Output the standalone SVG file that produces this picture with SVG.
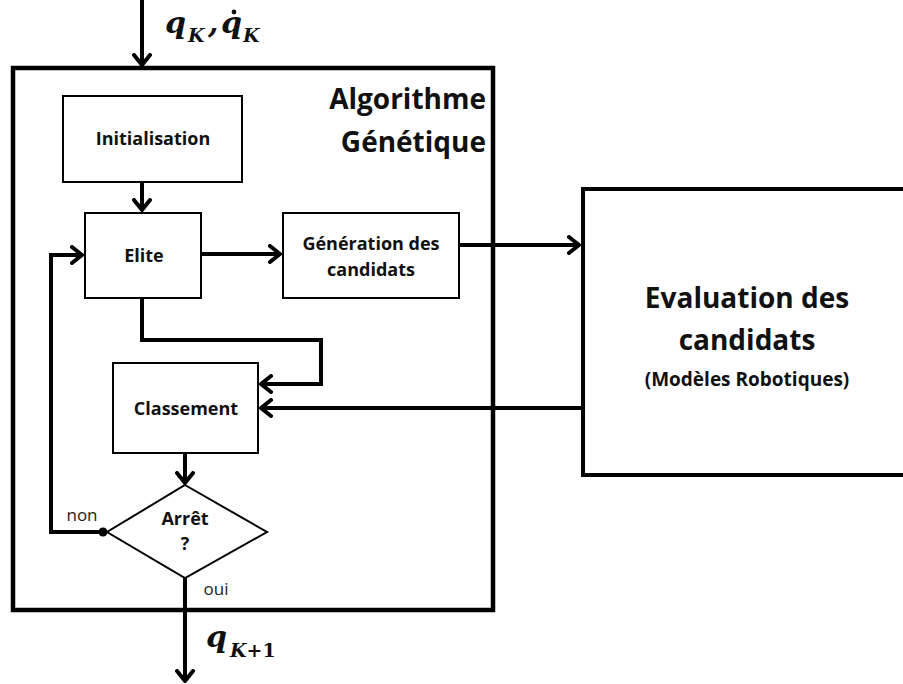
<svg xmlns="http://www.w3.org/2000/svg" width="903" height="684" viewBox="0 0 903 684">
<defs>
<style>
.box{fill:#fff;stroke:#000;stroke-width:2}
.thick{fill:none;stroke:#000;stroke-width:4.5}
.con{fill:none;stroke:#000;stroke-width:4}
.lbl{font-family:"Open Sans","Liberation Sans",sans-serif;font-weight:bold;font-size:18px;fill:#111;text-anchor:middle}
.big{font-family:"Open Sans","Liberation Sans",sans-serif;font-weight:bold;font-size:28px;fill:#111}
.mid{font-family:"Open Sans","Liberation Sans",sans-serif;font-weight:bold;font-size:19px;fill:#111;text-anchor:middle}
.sm{font-family:"Open Sans","Liberation Sans",sans-serif;font-size:17px;fill:#222;text-anchor:middle}
.math{font-family:"DejaVu Serif","Liberation Serif",serif;font-weight:bold;font-style:italic;fill:#111}
.up{font-style:normal}
</style>
<marker id="ah" viewBox="0 0 14 20" refX="13" refY="10" markerWidth="14" markerHeight="20" markerUnits="userSpaceOnUse" orient="auto">
<path d="M2,2 L12,10 L2,18" fill="none" stroke="#000" stroke-width="4" stroke-linecap="round" stroke-linejoin="round"/>
</marker>
</defs>
<rect width="903" height="684" fill="#fff"/>

<g id="outer">
<rect x="13" y="68" width="480" height="542" class="thick"/>
<text class="big" x="486" y="109" text-anchor="end">Algorithme</text>
<text class="big" x="486" y="152" text-anchor="end">Génétique</text>
</g>

<g id="evaluation">
<rect x="583" y="189" width="330" height="286" class="con"/>
<text class="big" x="747" y="308" text-anchor="middle">Evaluation des</text>
<text class="big" x="747" y="350" text-anchor="middle">candidats</text>
<text class="mid" x="747" y="386">(Modèles Robotiques)</text>
</g>

<g id="connectors">
<line x1="142" y1="0" x2="142" y2="66" class="con" marker-end="url(#ah)"/>
<line x1="142" y1="182" x2="142" y2="211" class="con" marker-end="url(#ah)"/>
<line x1="201" y1="254" x2="281" y2="254" class="con" marker-end="url(#ah)"/>
<line x1="459" y1="245" x2="580" y2="245" class="con" marker-end="url(#ah)"/>
<polyline points="142,298 142,340 321,340 321,384 260,384" class="con" marker-end="url(#ah)"/>
<line x1="583" y1="408" x2="260" y2="408" class="con" marker-end="url(#ah)"/>
<line x1="185" y1="453" x2="185" y2="484" class="con" marker-end="url(#ah)"/>
<polyline points="103,532 51,532 51,255 83,255" class="con" marker-end="url(#ah)"/>
<circle cx="103" cy="532" r="4.5" fill="#000"/>
<line x1="185" y1="578" x2="185" y2="682" class="con" marker-end="url(#ah)"/>
<text class="sm" x="82" y="521">non</text>
<text class="sm" x="216" y="595">oui</text>
</g>

<g id="initialisation">
<rect x="63" y="96" width="179" height="86" class="box"/>
<text class="lbl" x="153" y="145">Initialisation</text>
</g>

<g id="elite">
<rect x="85" y="213" width="116" height="85" class="box"/>
<text class="lbl" x="144" y="262">Elite</text>
</g>

<g id="generation">
<rect x="283" y="213" width="176" height="85" class="box"/>
<text class="lbl" x="371" y="250">Génération des</text>
<text class="lbl" x="371" y="276">candidats</text>
</g>

<g id="classement">
<rect x="113" y="363" width="145" height="90" class="box"/>
<text class="lbl" x="186" y="415">Classement</text>
</g>

<g id="arret">
<polygon points="185,485 267,532 185,578 107,532" class="box"/>
<text class="lbl" x="185" y="525">Arrêt</text>
<text class="lbl" x="185" y="550">?</text>
</g>

<g id="input-label">
<text class="math" x="165" y="33" font-size="30">q</text>
<text class="math" x="188" y="42" font-size="19">K</text>
<text class="math" x="208" y="33" font-size="30">,</text>
<text class="math" x="221" y="33" font-size="30">q</text>
<text class="math" x="243" y="42" font-size="19">K</text>
<circle cx="234" cy="12" r="2.4" fill="#111"/>
</g>

<g id="output-label">
<text class="math" x="206" y="647" font-size="30">q</text>
<text class="math" x="230" y="657" font-size="19">K<tspan class="up">+1</tspan></text>
</g>
</svg>
